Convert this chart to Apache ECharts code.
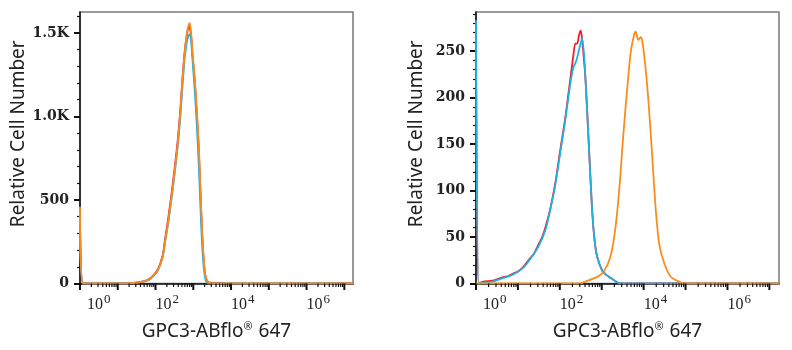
<!DOCTYPE html>
<html>
<head>
<meta charset="utf-8">
<script src="https://cdn.jsdelivr.net/npm/echarts@6.0.0/dist/echarts.min.js"></script>
<style>
  html, body { margin: 0; padding: 0; background: #fff; }
  #chart { width: 792px; height: 350px; }
</style>
</head>
<body>
<div id="chart"></div>
<script>
// [fluorescence, cell count]
var leftRed = [[1,450],[1.2,0],[18,0],[25,4],[40,9],[60,20],[80,40],[115,85],[155,170],[176,255],[220,400],[280,580],[340,740],[388,860],[450,1030],[525,1250],[600,1400],[680,1490],[760,1540],[800,1535],[870,1490],[960,1360],[1090,1210],[1230,1030],[1390,820],[1550,545],[1680,345],[1780,230],[1950,100],[2130,38],[2400,12],[2800,5],[3500,4],[4500,4],[5600,2],[6000,0],[1.7e7,0]];
var leftCyan = [[1,440],[1.2,0],[18,0],[25,3],[40,8],[60,17],[80,36],[115,78],[155,158],[176,235],[220,370],[280,545],[340,705],[388,820],[450,985],[525,1200],[600,1360],[680,1450],[760,1485],[820,1492],[880,1450],[960,1330],[1090,1160],[1230,960],[1390,720],[1550,450],[1680,270],[1780,170],[1950,70],[2130,20],[2400,5],[2900,0],[1.7e7,0]];
var leftOrange = [[1,460],[1.2,0],[18,0],[25,3],[40,8],[60,18],[80,38],[115,80],[155,160],[176,240],[220,380],[280,560],[340,720],[388,838],[450,1010],[525,1235],[600,1400],[680,1500],[760,1550],[804,1558],[870,1510],[960,1380],[1090,1235],[1230,1050],[1390,838],[1550,560],[1680,360],[1780,240],[1950,110],[2130,41],[2400,12],[2800,3],[3300,0],[1.7e7,0]];

var rightRed = [[1,280],[1.15,0],[1.5,2],[2.5,3],[4.5,7],[6,8],[7.9,11],[10,13],[13.5,18],[19.5,27],[24,32],[31,42],[38,50],[45,60],[59,80],[78,108],[102,143],[135,178],[178,220],[210,245],[234,258],[260,258],[290,268],[316,272],[340,262],[407,222],[490,151],[589,79],[680,45],[776,29],[1023,14],[1300,9],[1622,6],[2200,2],[2818,0],[1.7e7,0]];
var rightCyan = [[1,283],[1.15,0],[1.5,1],[2.5,2],[4.5,6],[7.9,10],[13.5,17],[19.5,26],[31,40],[45,57],[59,79],[78,106],[102,140],[135,176],[178,215],[210,232],[250,240],[290,252],[340,264],[380,245],[407,222],[490,151],[589,79],[680,45],[776,29],[1023,14],[1300,9],[1622,6],[2200,2],[2818,0],[1.7e7,0]];
var rightOrange = [[1,0],[300,0],[407,2],[600,5],[776,7],[1122,13],[1622,29],[2138,61],[2700,108],[3162,151],[3900,201],[4898,248],[5888,267],[6457,271],[7413,262],[8511,265],[9333,260],[11220,230],[13490,187],[16218,133],[19498,79],[23442,43],[30903,22],[44668,7],[70795,2],[93325,0],[1.7e7,0]];

// x axis is drawn in decades (log10 of fluorescence)
var xMaxDecade = 7.23;
var xLabelDecades = [0, 2, 4, 6];
var xMajorDecades = [0, 1, 2, 3, 4, 5, 6, 7];
var xMinorDecades = [];
for (var d = 0; d < 8; d++) {
  for (var k = 2; k <= 9; k++) {
    var lv = d + Math.log10(k);
    if (lv < xMaxDecade) xMinorDecades.push(lv);
  }
}
var leftYTicks = [0, 500, 1000, 1500];
var leftYMinor = [100, 200, 300, 400, 600, 700, 800, 900, 1100, 1200, 1300, 1400, 1600];
var rightYTicks = [0, 50, 100, 150, 200, 250];
var rightYMinor = [];
for (var v = 10; v <= 290; v += 10) { if (v % 50 !== 0) rightYMinor.push(v); }

var xName = 'GPC3-ABflo{r|®} 647';
var yName = 'Relative Cell Number';

var colors = { red: '#f21c24', cyan: '#1cb2e4', orange: '#fa8c1e' };

var myChart = echarts.init(document.getElementById('chart'));

function toDecades(data) {
  return data.map(function (p) { return [Math.log10(p[0]), p[1]]; });
}

function xAxisOf(gi) {
  return {
    type: 'value', gridIndex: gi, min: 0, max: xMaxDecade, position: 'bottom',
    name: xName, nameLocation: 'middle', nameGap: 38,
    nameTextStyle: {
      fontFamily: 'Noto Sans', fontSize: 19, color: '#222',
      rich: { r: { fontSize: 11, padding: [0, 1, 10, 0], fontFamily: 'Noto Sans', color: '#222' } }
    },
    axisLine: { show: true, onZero: false, lineStyle: { color: '#111', width: 1.5 } },
    axisTick: { show: false },
    axisLabel: {
      customValues: xLabelDecades, margin: 10, align: 'left',
      formatter: function (val) {
        var e = Math.round(val);
        return (e === 0 ? '{f|10}' : '{b|10}') + '{s|' + e + '}';
      },
      rich: {
        b: { fontFamily: 'Liberation Serif', fontSize: 16, color: '#222' },
        f: { fontFamily: 'Liberation Serif', fontSize: 16, color: '#222', padding: [0, 0, 0, 7] },
        s: { fontFamily: 'Liberation Serif', fontSize: 13, color: '#222', padding: [0, 0, 10, 1] }
      }
    },
    splitLine: { show: false }
  };
}
function yMajor(gi, max, ticks, fmt) {
  return {
    type: 'value', gridIndex: gi, min: 0, max: max, position: 'left',
    name: yName, nameLocation: 'middle', nameGap: 50,
    nameTextStyle: { fontFamily: 'Noto Sans', fontSize: 19, color: '#222', padding: [0, 0, 0, 28] },
    axisLine: { show: true, onZero: false, lineStyle: { color: '#111', width: 1.5 } },
    axisTick: { show: true, length: 6, customValues: ticks, lineStyle: { color: '#111', width: 2 } },
    axisLabel: {
      customValues: ticks, margin: 11, formatter: fmt,
      fontFamily: 'DejaVu Serif', fontWeight: 'bold', fontSize: 14, color: '#222'
    },
    splitLine: { show: false }
  };
}
function yMinor(gi, max, ticks) {
  return {
    type: 'value', gridIndex: gi, min: 0, max: max, position: 'left', offset: 0,
    axisLine: { show: false, onZero: false },
    axisTick: { show: true, length: 3, customValues: ticks, lineStyle: { color: '#111', width: 1.2 } },
    axisLabel: { show: false },
    splitLine: { show: false }
  };
}
function line(name, data, xi, yi, color) {
  return {
    name: name, type: 'line', data: toDecades(data), xAxisIndex: xi, yAxisIndex: yi,
    showSymbol: false, smooth: 0.25, animation: false,
    lineStyle: { color: color, width: 1.8 }, itemStyle: { color: color }
  };
}
// tick marks hanging under the x axis, placed by the axis scale
function xTicks(values, xi, yi, len, w) {
  return {
    type: 'custom', xAxisIndex: xi, yAxisIndex: yi, silent: true, clip: false, z: 5,
    data: values.map(function (t) { return [t, 0]; }),
    renderItem: function (params, api) {
      var p = api.coord([api.value(0), 0]);
      return {
        type: 'line',
        shape: { x1: p[0], y1: p[1], x2: p[0], y2: p[1] + len },
        style: { stroke: '#111', lineWidth: w }
      };
    }
  };
}

var option = {
  backgroundColor: '#fff',
  animation: false,
  grid: [
    { left: 80, top: 12, width: 273, height: 271.5, show: true, borderColor: '#7a7a7a', borderWidth: 1.5 },
    { left: 476, top: 12, width: 303, height: 271.5, show: true, borderColor: '#7a7a7a', borderWidth: 1.5 }
  ],
  xAxis: [xAxisOf(0), xAxisOf(1)],
  yAxis: [
    yMajor(0, 1625, leftYTicks, function (v) { return v === 0 ? '0' : v === 500 ? '500' : (v / 1000).toFixed(1) + 'K'; }),
    yMinor(0, 1625, leftYMinor),
    yMajor(1, 292, rightYTicks, function (v) { return String(v); }),
    yMinor(1, 292, rightYMinor)
  ],
  series: [
    line('red', leftRed, 0, 0, colors.red),
    line('cyan', leftCyan, 0, 0, colors.cyan),
    line('orange', leftOrange, 0, 0, colors.orange),
    line('red', rightRed, 1, 2, colors.red),
    line('cyan', rightCyan, 1, 2, colors.cyan),
    line('orange', rightOrange, 1, 2, colors.orange),
    xTicks(xMajorDecades, 0, 0, 6.5, 2),
    xTicks(xMinorDecades, 0, 0, 3.5, 1.2),
    xTicks(xMajorDecades, 1, 2, 6.5, 2),
    xTicks(xMinorDecades, 1, 2, 3.5, 1.2)
  ]
};
myChart.setOption(option);
</script>
</body>
</html>
